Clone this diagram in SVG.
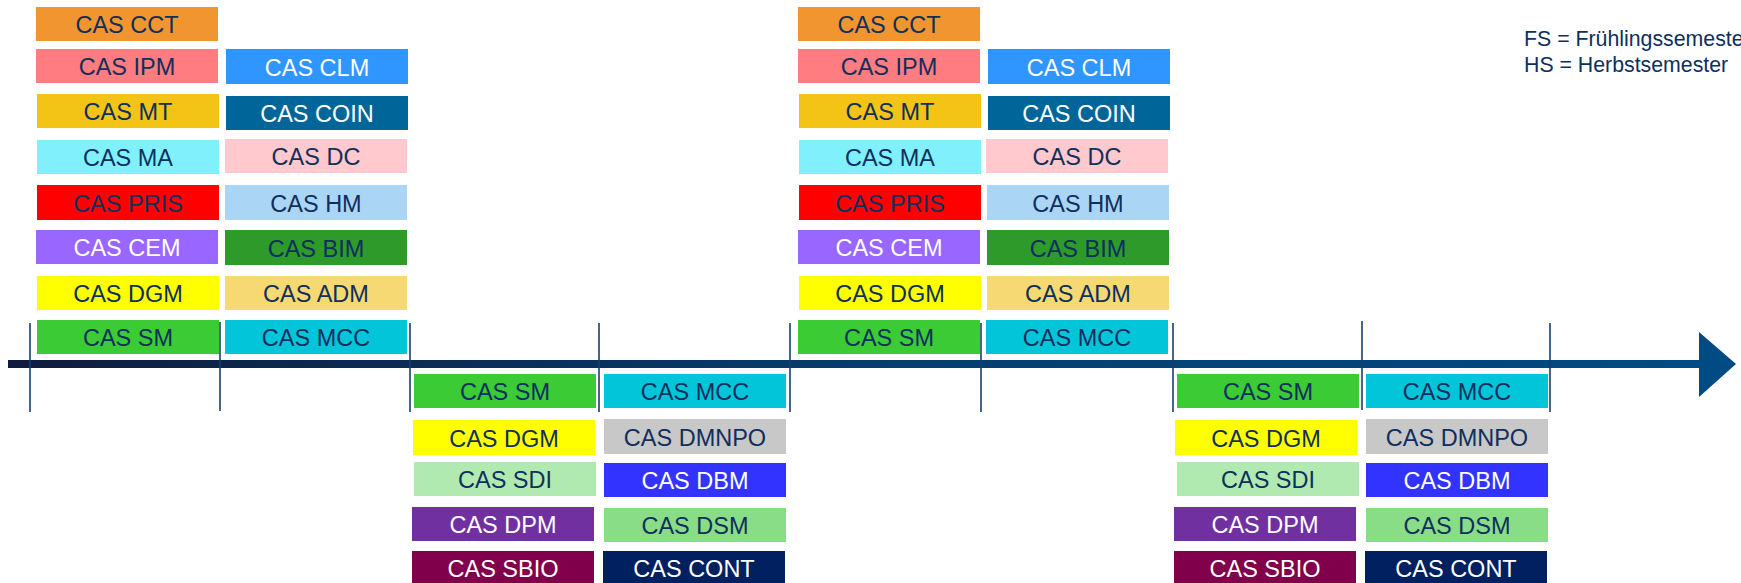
<svg xmlns="http://www.w3.org/2000/svg" width="1741" height="583" viewBox="0 0 1741 583">
<style>
text{font-family:"Liberation Sans",Arial,sans-serif;font-size:23.5px;text-anchor:middle;fill:#0f2f5c}
text.w{fill:#ffffff}
text.lg{font-size:21.3px;text-anchor:start}
.tick{stroke:#163e6b;stroke-width:1.6;fill:none}
</style>
<defs>
<linearGradient id="ax" x1="0" y1="0" x2="1" y2="0">
<stop offset="0" stop-color="#101c3d"/>
<stop offset="0.5" stop-color="#063d6e"/>
<stop offset="1" stop-color="#004b84"/>
</linearGradient>
</defs>
<rect width="1741" height="583" fill="#ffffff"/>

<g id="connectors">
<rect x="8" y="360" width="1693" height="8" fill="url(#ax)"/>
<polygon points="1699,332 1736,364 1699,397" fill="#004b84"/>
<line class="tick" x1="30" y1="323" x2="30" y2="412"/>
<line class="tick" x1="220" y1="322" x2="220" y2="411"/>
<line class="tick" x1="410" y1="323" x2="410" y2="412"/>
<line class="tick" x1="599" y1="323" x2="599" y2="412"/>
<line class="tick" x1="790" y1="323" x2="790" y2="412"/>
<line class="tick" x1="981" y1="323" x2="981" y2="412"/>
<line class="tick" x1="1173" y1="323" x2="1173" y2="412"/>
<line class="tick" x1="1362" y1="321" x2="1362" y2="410"/>
<line class="tick" x1="1550" y1="323" x2="1550" y2="412"/>
</g>

<g id="n1-cct"><rect x="36" y="7" width="182" height="34" fill="#f19530"/><text x="127" y="33">CAS CCT</text></g>
<g id="n1-ipm"><rect x="36" y="49" width="182" height="34" fill="#ff7c80"/><text x="127" y="75">CAS IPM</text></g>
<g id="n1-mt"><rect x="37" y="94" width="182" height="34" fill="#f3c415"/><text x="128" y="120">CAS MT</text></g>
<g id="n1-ma"><rect x="37" y="140" width="182" height="34" fill="#80f1fc"/><text x="128" y="166">CAS MA</text></g>
<g id="n1-pris"><rect x="37" y="185" width="182" height="35" fill="#ff0000"/><text x="128" y="211.5">CAS PRIS</text></g>
<g id="n1-cem"><rect x="36" y="230" width="182" height="34" fill="#9966ff"/><text class="w" x="127" y="256">CAS CEM</text></g>
<g id="n1-dgm"><rect x="37" y="276" width="182" height="34" fill="#ffff00"/><text x="128" y="302">CAS DGM</text></g>
<g id="n1-sm"><rect x="37" y="320" width="182" height="34" fill="#3acb35"/><text x="128" y="346">CAS SM</text></g>
<g id="n1-clm"><rect x="226" y="49" width="182" height="35" fill="#3096ff"/><text class="w" x="317" y="75.5">CAS CLM</text></g>
<g id="n1-coin"><rect x="226" y="96" width="182" height="34" fill="#006699"/><text class="w" x="317" y="122">CAS COIN</text></g>
<g id="n1-dc"><rect x="225" y="139" width="182" height="34" fill="#ffc9cd"/><text x="316" y="165">CAS DC</text></g>
<g id="n1-hm"><rect x="225" y="185" width="182" height="35" fill="#abd5f5"/><text x="316" y="211.5">CAS HM</text></g>
<g id="n1-bim"><rect x="225" y="230" width="182" height="35" fill="#2d9a29"/><text x="316" y="256.5">CAS BIM</text></g>
<g id="n1-adm"><rect x="225" y="276" width="182" height="34" fill="#f7d973"/><text x="316" y="302">CAS ADM</text></g>
<g id="n1-mcc"><rect x="225" y="320" width="182" height="34" fill="#02c5d9"/><text x="316" y="346">CAS MCC</text></g>

<g id="n2-sm"><rect x="414" y="374" width="182" height="34" fill="#3acb35"/><text x="505" y="400">CAS SM</text></g>
<g id="n2-dgm"><rect x="413" y="420" width="182" height="35" fill="#ffff00"/><text x="504" y="446.5">CAS DGM</text></g>
<g id="n2-sdi"><rect x="414" y="462" width="182" height="34" fill="#b1eab1"/><text x="505" y="488">CAS SDI</text></g>
<g id="n2-dpm"><rect x="412" y="507" width="182" height="34" fill="#7030a0"/><text class="w" x="503" y="533">CAS DPM</text></g>
<g id="n2-sbio"><rect x="412" y="551" width="182" height="34" fill="#80004b"/><text class="w" x="503" y="577">CAS SBIO</text></g>
<g id="n2-mcc"><rect x="604" y="374" width="182" height="34" fill="#02c5d9"/><text x="695" y="400">CAS MCC</text></g>
<g id="n2-dmnpo"><rect x="604" y="419" width="182" height="35" fill="#c8c8c8"/><text x="695" y="445.5">CAS DMNPO</text></g>
<g id="n2-dbm"><rect x="604" y="463" width="182" height="34" fill="#3333ff"/><text class="w" x="695" y="489">CAS DBM</text></g>
<g id="n2-dsm"><rect x="604" y="508" width="182" height="34" fill="#89dd87"/><text x="695" y="534">CAS DSM</text></g>
<g id="n2-cont"><rect x="603" y="551" width="182" height="34" fill="#002060"/><text class="w" x="694" y="577">CAS CONT</text></g>

<g id="n3-cct"><rect x="798" y="7" width="182" height="34" fill="#f19530"/><text x="889" y="33">CAS CCT</text></g>
<g id="n3-ipm"><rect x="798" y="49" width="182" height="34" fill="#ff7c80"/><text x="889" y="75">CAS IPM</text></g>
<g id="n3-mt"><rect x="799" y="94" width="182" height="34" fill="#f3c415"/><text x="890" y="120">CAS MT</text></g>
<g id="n3-ma"><rect x="799" y="140" width="182" height="34" fill="#80f1fc"/><text x="890" y="166">CAS MA</text></g>
<g id="n3-pris"><rect x="799" y="185" width="182" height="35" fill="#ff0000"/><text x="890" y="211.5">CAS PRIS</text></g>
<g id="n3-cem"><rect x="798" y="230" width="182" height="34" fill="#9966ff"/><text class="w" x="889" y="256">CAS CEM</text></g>
<g id="n3-dgm"><rect x="799" y="276" width="182" height="34" fill="#ffff00"/><text x="890" y="302">CAS DGM</text></g>
<g id="n3-sm"><rect x="798" y="320" width="182" height="34" fill="#3acb35"/><text x="889" y="346">CAS SM</text></g>
<g id="n3-clm"><rect x="988" y="49" width="182" height="35" fill="#3096ff"/><text class="w" x="1079" y="75.5">CAS CLM</text></g>
<g id="n3-coin"><rect x="988" y="96" width="182" height="34" fill="#006699"/><text class="w" x="1079" y="122">CAS COIN</text></g>
<g id="n3-dc"><rect x="986" y="139" width="182" height="34" fill="#ffc9cd"/><text x="1077" y="165">CAS DC</text></g>
<g id="n3-hm"><rect x="987" y="185" width="182" height="35" fill="#abd5f5"/><text x="1078" y="211.5">CAS HM</text></g>
<g id="n3-bim"><rect x="987" y="230" width="182" height="35" fill="#2d9a29"/><text x="1078" y="256.5">CAS BIM</text></g>
<g id="n3-adm"><rect x="987" y="276" width="182" height="34" fill="#f7d973"/><text x="1078" y="302">CAS ADM</text></g>
<g id="n3-mcc"><rect x="986" y="320" width="182" height="34" fill="#02c5d9"/><text x="1077" y="346">CAS MCC</text></g>

<g id="n4-sm"><rect x="1177" y="374" width="182" height="34" fill="#3acb35"/><text x="1268" y="400">CAS SM</text></g>
<g id="n4-dgm"><rect x="1175" y="420" width="182" height="35" fill="#ffff00"/><text x="1266" y="446.5">CAS DGM</text></g>
<g id="n4-sdi"><rect x="1177" y="462" width="182" height="34" fill="#b1eab1"/><text x="1268" y="488">CAS SDI</text></g>
<g id="n4-dpm"><rect x="1174" y="507" width="182" height="34" fill="#7030a0"/><text class="w" x="1265" y="533">CAS DPM</text></g>
<g id="n4-sbio"><rect x="1174" y="551" width="182" height="34" fill="#80004b"/><text class="w" x="1265" y="577">CAS SBIO</text></g>
<g id="n4-mcc"><rect x="1366" y="374" width="182" height="34" fill="#02c5d9"/><text x="1457" y="400">CAS MCC</text></g>
<g id="n4-dmnpo"><rect x="1366" y="419" width="182" height="35" fill="#c8c8c8"/><text x="1457" y="445.5">CAS DMNPO</text></g>
<g id="n4-dbm"><rect x="1366" y="463" width="182" height="34" fill="#3333ff"/><text class="w" x="1457" y="489">CAS DBM</text></g>
<g id="n4-dsm"><rect x="1366" y="508" width="182" height="34" fill="#89dd87"/><text x="1457" y="534">CAS DSM</text></g>
<g id="n4-cont"><rect x="1365" y="551" width="182" height="34" fill="#002060"/><text class="w" x="1456" y="577">CAS CONT</text></g>

<g id="legend">
<text class="lg" x="1524" y="45.7">FS = Frühlingssemester</text>
<text class="lg" x="1524" y="71.7">HS = Herbstsemester</text>
</g>
</svg>
